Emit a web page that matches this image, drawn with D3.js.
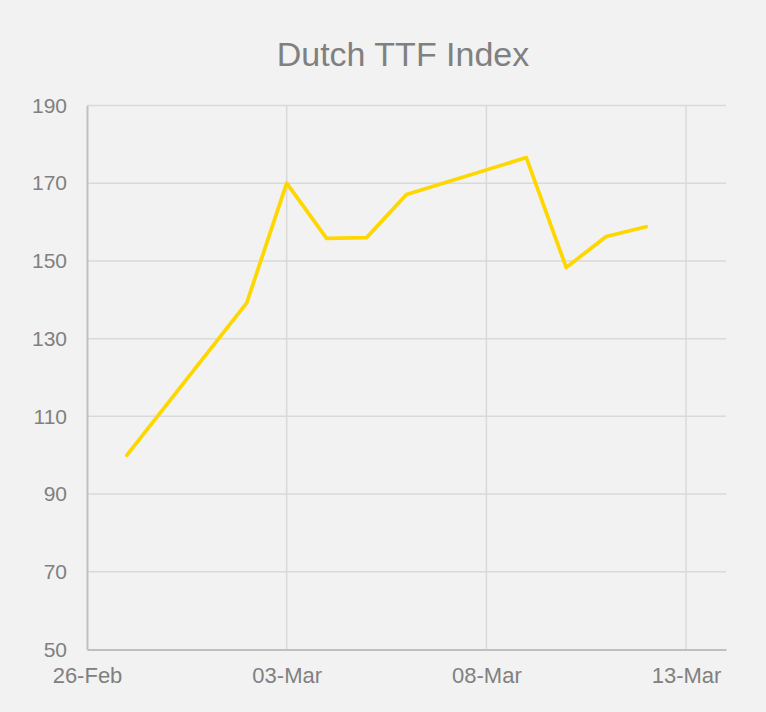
<!DOCTYPE html>
<html>
<head>
<meta charset="utf-8">
<script src="https://cdn.jsdelivr.net/npm/d3@7"></script>
<style>
  html, body { margin: 0; padding: 0; background: #f2f2f2; }
  svg { display: block; font-family: "Liberation Sans", Arial, sans-serif; }
</style>
</head>
<body>
<svg id="chart" width="766" height="712"></svg>
<script>
const title = "Dutch TTF Index";
const dates = ["2022-02-27", "2022-03-02", "2022-03-03", "2022-03-04", "2022-03-05",
               "2022-03-06", "2022-03-09", "2022-03-10", "2022-03-11", "2022-03-12"];
const values = [100.0, 139.2, 170.0, 155.8, 156.0, 167.1, 176.6, 148.3, 156.3, 158.8];
const yTicks = [50, 70, 90, 110, 130, 150, 170, 190];
const xTickDates = ["2022-02-26", "2022-03-03", "2022-03-08", "2022-03-13"];
const xDomain = ["2022-02-26", "2022-03-14"];
const yDomain = [50, 190];

const parse = d3.utcParse("%Y-%m-%d");
const fmt = d3.utcFormat("%d-%b");
const data = dates.map((d, i) => ({ date: parse(d), value: values[i] }));

const svg = d3.select("#chart");
const margin = { left: 87, right: 40, top: 105.5, bottom: 62.5 };
const W = 766, H = 712;

const x = d3.scaleUtc().domain(xDomain.map(parse)).range([margin.left, W - margin.right]);
const y = d3.scaleLinear().domain(yDomain).range([H - margin.bottom, margin.top]);

svg.append("rect").attr("width", W).attr("height", H).attr("fill", "#f2f2f2");

// horizontal gridlines
svg.append("g").selectAll("line").data(yTicks.slice(1)).join("line")
  .attr("x1", margin.left).attr("x2", W - margin.right)
  .attr("y1", d => y(d)).attr("y2", d => y(d))
  .attr("stroke", "#d9d9d9").attr("stroke-width", 1.5);

// vertical gridlines
svg.append("g").selectAll("line").data(xTickDates.slice(1).map(parse)).join("line")
  .attr("x1", d => x(d)).attr("x2", d => x(d))
  .attr("y1", margin.top).attr("y2", H - margin.bottom)
  .attr("stroke", "#d9d9d9").attr("stroke-width", 1.5);

// y axis
const yAxis = svg.append("g").attr("transform", `translate(${margin.left},0)`)
  .call(d3.axisLeft(y).tickValues(yTicks).tickSize(0).tickPadding(20).tickFormat(d3.format("d")));
yAxis.select(".domain").attr("stroke", "#bfbfbf").attr("stroke-width", 2);
yAxis.selectAll("text").attr("fill", "#808080").attr("font-size", 21)
  .attr("font-family", "'Liberation Sans', Arial, sans-serif");

// x axis
const xAxis = svg.append("g").attr("transform", `translate(0,${H - margin.bottom})`)
  .call(d3.axisBottom(x).tickValues(xTickDates.map(parse)).tickSize(0).tickPadding(18).tickFormat(fmt));
xAxis.select(".domain").attr("stroke", "#bfbfbf").attr("stroke-width", 2);
xAxis.selectAll("text").attr("fill", "#808080").attr("font-size", 22)
  .attr("font-family", "'Liberation Sans', Arial, sans-serif");

// line
const line = d3.line().x(d => x(d.date)).y(d => y(d.value));
svg.append("path").datum(data)
  .attr("d", line)
  .attr("fill", "none")
  .attr("stroke", "#ffd700")
  .attr("stroke-width", 3.75)
  .attr("stroke-linejoin", "round")
  .attr("stroke-linecap", "round");

// title
svg.append("text")
  .attr("x", 403).attr("y", 66)
  .attr("text-anchor", "middle")
  .attr("fill", "#808080")
  .attr("font-size", 34)
  .text(title);
</script>
</body>
</html>
